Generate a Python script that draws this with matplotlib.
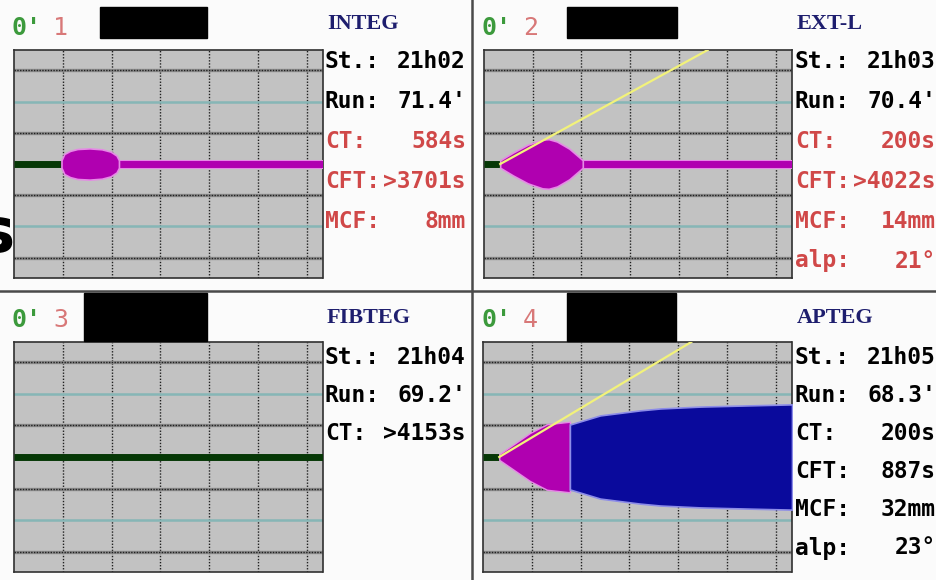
import matplotlib
matplotlib.use("Agg")
import matplotlib.pyplot as plt
from matplotlib.patches import Rectangle
import numpy as np

W, H = 937, 580

# channel headers and result texts
channels = ["1", "2", "3", "4"]
test_names = ["INTEG", "EXT-L", "FIBTEG", "APTEG"]
start_times = ["21h02", "21h03", "21h04", "21h05"]
run_times = ["71.4'", "70.4'", "69.2'", "68.3'"]
ct_seconds = [584, 200, 4153, 200]
ct_labels = ["584s", "200s", ">4153s", "200s"]
cft_labels = [">3701s", ">4022s", None, "887s"]
mcf_labels = ["8mm", "14mm", None, "32mm"]
alp_labels = [None, "21°", None, "23°"]
flagged = [True, True, False, False]

# amplitude traces (time in min, amplitude in mm)
integ_t = [9.73, 10.3, 11.5, 13.0, 15.5, 18.0, 19.8, 21.0, 21.5]
integ_amp = [0, 4.0, 6.0, 7.2, 7.6, 7.0, 5.5, 3.0, 0]
extl_t = [3.33, 6.0, 9.0, 12.0, 13.3, 15.0, 17.5, 20.3]
extl_amp = [0, 5.0, 10.0, 13.2, 13.5, 12.0, 7.5, 0]
apteg_t1 = [3.33, 6.0, 9.6, 13.1, 17.8]
apteg_amp1 = [0, 5.7, 13.4, 19.0, 20.6]
apteg_t2 = [17.8, 24.0, 32.2, 36.3, 44.5, 55.0, 63.3]
apteg_amp2 = [20.6, 26.4, 29.6, 30.8, 32.0, 32.8, 33.4]
# alpha tangent slopes (half-amplitude mm per min)
alpha_slope = [None, 0.856, None, 0.928]

T_MAX = 63.3
Y_LIM = 36.5

GREEN = "#063806"
MAGENTA = "#b000b0"
PINK = "#e58ae5"
BLUE = "#0a0a9c"
RED = "#d04848"
NAVY = "#1e1e6e"

fig = plt.figure(figsize=(W / 100, H / 100), dpi=100)
fig.patch.set_facecolor("#fbfbfb")


def px_axes(x0, y0, x1, y1):
    return fig.add_axes([x0 / W, 1 - y1 / H, (x1 - x0) / W, (y1 - y0) / H])


def ftext(x, y, s, **kw):
    return fig.text(x / W, 1 - y / H, s, **kw)


def grid_panel(ax):
    ax.set_facecolor("#c2c2c2")
    ax.set_xlim(0, T_MAX)
    ax.set_ylim(-Y_LIM, Y_LIM)
    ax.set_xticks([])
    ax.set_yticks([])
    for s in ax.spines.values():
        s.set_linestyle((0, (1, 1)))
        s.set_linewidth(1.2)
        s.set_color("#303030")
    for t in range(10, 61, 10):
        ax.axvline(t, color="#202020", lw=1.0, ls=(0, (1, 1.2)), zorder=1)
    for y in (-30, -10, 10, 30):
        ax.axhline(y, color="#8a8a8a", lw=2.4, zorder=1)
        ax.axhline(y, color="#202020", lw=1.0, ls=(0, (1, 1)), zorder=1)
    for y in (-20, 20):
        ax.axhline(y, color="#86b6b6", lw=1.8, zorder=1)


def base_line(ax, ct):
    ax.plot([0, min(ct, T_MAX)], [0, 0], color=GREEN, lw=5,
            solid_capstyle="butt", zorder=4)


def bulge(ax, t, amp, t_end):
    t = np.array(t)
    a = np.array(amp) / 2
    ax.plot([t[0], t_end], [0, 0], color=PINK, lw=6.5,
            solid_capstyle="butt", zorder=3)
    ax.plot([t[0], t_end], [0, 0], color=MAGENTA, lw=5,
            solid_capstyle="butt", zorder=4)
    ax.fill_between(t, -a - 1.2, a + 1.2, color=MAGENTA, ec=PINK, lw=1.2,
                    zorder=4)


def tangent(ax, ct, slope):
    t1 = ct + Y_LIM / slope
    ax.plot([ct, t1], [0, Y_LIM], color="#f2f27a", lw=1.6, zorder=5)


panels = [(14, 50, 323, 278), (484, 50, 792, 278),
          (14, 342, 323, 572), (483, 342, 792, 572)]
axes = [px_axes(*p) for p in panels]
for ax in axes:
    grid_panel(ax)

ct_min = [c / 60 for c in ct_seconds]

# INTEG
base_line(axes[0], ct_min[0])
bulge(axes[0], integ_t, integ_amp, T_MAX)

# EXT-L
base_line(axes[1], ct_min[1])
bulge(axes[1], extl_t, extl_amp, T_MAX)
tangent(axes[1], ct_min[1], alpha_slope[1])

# FIBTEG: no clot formation within run
base_line(axes[2], ct_min[2])

# APTEG
ax = axes[3]
base_line(ax, ct_min[3])
a1 = np.array(apteg_amp1) / 2
a2 = np.array(apteg_amp2) / 2
ax.fill_between(apteg_t1, -a1 - 0.9, a1 + 0.9, color=MAGENTA, ec=PINK,
                lw=1.0, zorder=4)
ax.fill_between(apteg_t2, -a2, a2, color=BLUE, ec="#8c8ce8", lw=1.2, zorder=4)
tangent(ax, ct_min[3], alpha_slope[3])

# panel text
mono = "DejaVu Sans Mono"
header_off = [(0, 0), (470, 0), (0, 292), (470, 292)]
row_y0 = [62, 62, 358, 358]
row_step = [39.8, 39.8, 38, 38]
for i in range(4):
    dx, dy = header_off[i]
    ftext(12 + dx, 28 + dy, "0'", color="#3c9a3c", family=mono,
          fontsize=18, va="center", weight="bold")
    ftext(53 + dx, 28 + dy, channels[i], color="#d87878", family=mono,
          fontsize=18, va="center")
    ftext(327 + dx, 24 + dy + (2 if dy else 0), test_names[i], color=NAVY,
          family="Liberation Serif", weight="bold", fontsize=16, va="center")

    rows = [("St.:", start_times[i]), ("Run:", run_times[i]),
            ("CT:", ct_labels[i]), ("CFT:", cft_labels[i]),
            ("MCF:", mcf_labels[i]), ("alp:", alp_labels[i])]
    rows = [r for r in rows if r[1] is not None]
    for k, (lab, val) in enumerate(rows):
        col = RED if (flagged[i] and k >= 2) else "black"
        y = row_y0[i] + k * row_step[i]
        ftext(325 + dx, y, lab, color=col, family=mono, fontsize=16.5,
              va="center", weight="bold")
        ftext(466 + dx, y, val, color=col, family=mono, fontsize=16.5,
              va="center", ha="right", weight="bold")

# redaction boxes over patient names
for x0, y0, x1, y1 in [(100, 7, 207, 38), (567, 7, 677, 38),
                       (84, 293, 207, 341), (567, 293, 676, 341)]:
    fig.patches.append(Rectangle((x0 / W, 1 - y1 / H), (x1 - x0) / W,
                                 (y1 - y0) / H, transform=fig.transFigure,
                                 color="black", zorder=10))

# screen dividers
fig.add_artist(plt.Line2D([472 / W, 472 / W], [0, 1], color="#4a4a4a",
                          lw=1.8, transform=fig.transFigure))
fig.add_artist(plt.Line2D([0, 1], [1 - 291 / H, 1 - 291 / H],
                          color="#4a4a4a", lw=1.8, transform=fig.transFigure))

# slide lettering running off the left edge
ftext(15, 252, "s", color="black", family="DejaVu Sans", weight="bold",
      fontsize=45, ha="right", va="baseline")

fig.savefig("out.png", dpi=100, facecolor=fig.get_facecolor())
